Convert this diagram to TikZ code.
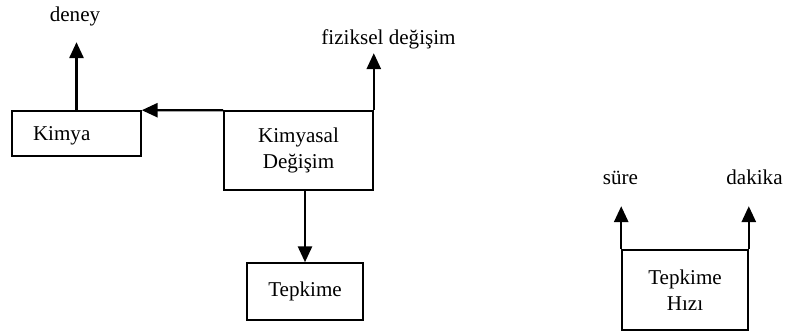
\documentclass[tikz,border=0pt]{standalone}
\usepackage{fontspec}
\setmainfont{Liberation Serif}
\usetikzlibrary{arrows.meta}
\usetikzlibrary{calc,positioning}

\begin{document}
\begin{tikzpicture}[>={Triangle[length=9pt,width=8pt]},
    box/.style = {draw, line width=0.9pt, inner sep=0pt, align=center, font=\fontsize{12}{14.5}\selectfont},
    lbl/.style = {anchor=base, inner sep=0pt, font=\fontsize{12}{14.5}\selectfont},
    conn/.style = {->, line width=1.3pt}]

    \useasboundingbox (0,0) rectangle (15.74,-6.68);

    % boxes
    \node[box, minimum width=2.58cm, minimum height=0.9cm, text width=1.74cm, align=left, text depth=0pt] (kimya) at (1.53,-2.67) {Kimya};
    \node[box, minimum width=2.98cm, minimum height=1.58cm] (kd) at (5.97,-3.01) {Kimyasal\\Değişim};
    \node[box, minimum width=2.32cm, minimum height=1.14cm] (tepkime) at (6.10,-5.83) {Tepkime};
    \node[box, minimum width=2.52cm, minimum height=1.6cm] (hiz) at (13.70,-5.80) {Tepkime\\Hızı};

    % labels
    \node[lbl] (deney) at (1.50,-0.44) {deney};
    \node[lbl] (fiziksel) at (7.77,-0.90) {fiziksel değişim};
    \node[lbl] (sure) at (12.41,-3.70) {süre};
    \node[lbl] (dakika) at (15.09,-3.70) {dakika};

    \coordinate (deneyuc) at ($(kimya.north)+(0,1.36)$);
    \coordinate (fizuc) at ($(kd.north east)+(0,1.14)$);
    \coordinate (sureuc) at ($(hiz.north west)+(0,0.86)$);
    \coordinate (dakikauc) at ($(hiz.north east)+(0,0.86)$);

    % connectors
    \draw[conn] (kd.north west) -- (kimya.north east);
    \draw[conn] (kimya.north) -- (deneyuc);
    \draw[conn] (kd.north east) -- (fizuc);
    \draw[conn] (tepkime.north |- kd.south) -- (tepkime.north);
    \draw[conn] (hiz.north west) -- (sureuc);
    \draw[conn] (hiz.north east) -- (dakikauc);

\end{tikzpicture}
\end{document}
